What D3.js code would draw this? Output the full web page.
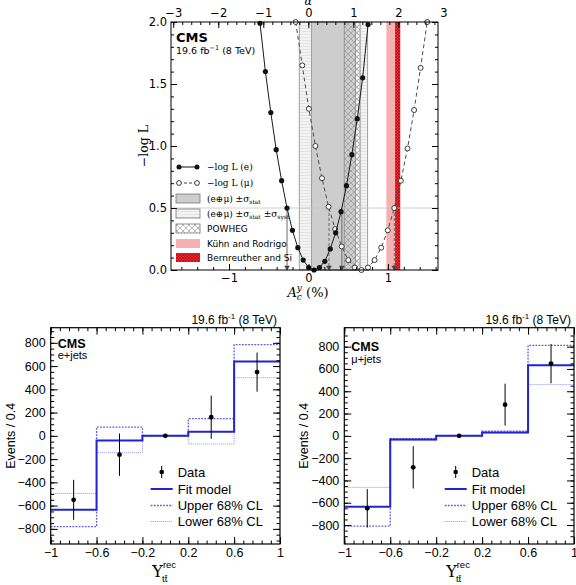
<!DOCTYPE html>
<html>
<head>
<meta charset="utf-8">
<script src="https://cdn.jsdelivr.net/npm/d3@7"></script>
<style>
body { margin: 0; background: #fff; }
text { fill: #000; }
</style>
</head>
<body>
<svg id="fig" width="576" height="585"></svg>
<script>
// ---- top panel: -log L scans vs A_c^y (%) ----
const eA  = [-0.61, -0.542, -0.474, -0.406, -0.338, -0.27, -0.202, -0.134, -0.066, 0.002, 0.07,
             0.138, 0.206, 0.274, 0.342, 0.41, 0.478, 0.546, 0.614, 0.682, 0.75];
const eL  = [1.99, 1.60, 1.27, 0.97, 0.72, 0.50, 0.32, 0.18, 0.08, 0.02, 0.0,
             0.02, 0.07, 0.17, 0.30, 0.47, 0.68, 0.93, 1.22, 1.55, 1.98];
const muA = [-0.161, -0.078, 0.005, 0.087, 0.17, 0.253, 0.336, 0.418, 0.501, 0.584, 0.667,
             0.749, 0.832, 0.915, 0.998, 1.08, 1.163, 1.246, 1.329, 1.411, 1.494];
const muL = [2.0, 1.65, 1.30, 1.00, 0.74, 0.51, 0.33, 0.19, 0.08, 0.02, 0.0,
             0.02, 0.08, 0.18, 0.32, 0.50, 0.72, 0.98, 1.29, 1.63, 2.0];

// vertical bands (A_c^y in %)
const systBand   = [-0.116, 0.745];
const statBand   = [0.04, 0.59];
const powhegBand = [0.45, 0.65];
const kuhnBand   = [0.98, 1.09];
const bernBand   = [1.09, 1.155];
// 1 sigma crossings (-log L = 0.5)
const eCross  = [-0.27, 0.42];
const muCross = [0.258, 1.08];

const legendTop = ["−log L  (e)", "−log L  (μ)", "stat", "syst", "POWHEG", "Kühn and Rodrigo", "Bernreuther and Si"];

// ---- bottom panels: Upsilon_tt^rec templates ----
const binEdges   = [-1, -0.6, -0.2, 0.2, 0.6, 1];
const binCenters = [-0.8, -0.4, 0, 0.4, 0.8];
const eFit    = [-635, -40, 0, 35, 640];
const eUpper  = [-780, 75, 0, 148, 784];
const eLower  = [-495, -145, 0, -70, 500];
const eData   = [-550, -162, 0, 160, 548];
const eErr    = [172, 182, 0, 186, 168];
const muFit   = [-637, -32, 0, 30, 634];
const muUpper = [-810, -25, 0, 42, 812];
const muLower = [-462, -40, 0, 24, 460];
const muData  = [-650, -282, 0, 280, 648];
const muErr   = [172, 190, 0, 188, 176];
const histLegend = ["Data", "Fit model", "Upper 68% CL", "Lower 68% CL"];

const svg = d3.select("#fig");
const defs = svg.append("defs");

const pSyst = defs.append("pattern").attr("id", "hSyst")
	.attr("width", 4).attr("height", 3).attr("patternUnits", "userSpaceOnUse");
pSyst.append("rect").attr("width", 4).attr("height", 3).attr("fill", "#f3f3f3");
pSyst.append("line").attr("x1", 0).attr("x2", 4).attr("y1", 1.5).attr("y2", 1.5)
	.attr("stroke", "#dadada").attr("stroke-width", 0.6);

const pPow = defs.append("pattern").attr("id", "hPow")
	.attr("width", 6).attr("height", 6).attr("patternUnits", "userSpaceOnUse");
pPow.append("path").attr("d", "M0,0L6,6M6,0L0,6M-1,5L1,7M5,-1L7,1")
	.attr("stroke", "#8c8c8c").attr("stroke-width", 0.6).attr("fill", "none");

const pRed = defs.append("pattern").attr("id", "hRed")
	.attr("width", 3).attr("height", 3).attr("patternUnits", "userSpaceOnUse");
pRed.append("rect").attr("width", 3).attr("height", 3).attr("fill", "#e8262a");
pRed.append("path").attr("d", "M0,0L3,3M3,0L0,3")
	.attr("stroke", "#b00010").attr("stroke-width", 0.5);

// helper: axis with inward ticks, no domain line
function addAxis(g, axis, tx, ty) {
	const a = g.append("g").attr("transform", `translate(${tx},${ty})`).call(axis);
	a.select(".domain").remove();
	return a;
}

// ================= TOP PANEL =================
const tp = {l: 171, r: 438, t: 22, b: 270};
const xA = d3.scaleLinear().domain([-1.73, 1.63]).range([tp.l, tp.r]);
const xAlpha = d3.scaleLinear().domain([-3.05, 2.88]).range([tp.l, tp.r]);
const yL = d3.scaleLinear().domain([0, 2]).range([tp.b, tp.t]);
const gt = svg.append("g").attr("font-family", "DejaVu Sans");

function band(r, fill, stroke) {
	gt.append("rect")
		.attr("x", xA(r[0])).attr("width", xA(r[1]) - xA(r[0]))
		.attr("y", tp.t).attr("height", tp.b - tp.t)
		.attr("fill", fill)
		.attr("stroke", stroke || "none").attr("stroke-width", 0.8);
}
band(systBand, "url(#hSyst)", "#8a8a8a");
band(statBand, "#cdcdcd", "#8a8a8a");
band(powhegBand, "url(#hPow)", "#8a8a8a");
band(kuhnBand, "#f5b1b1");
band(bernBand, "url(#hRed)");

gt.append("line")
	.attr("x1", tp.l).attr("x2", tp.r).attr("y1", yL(0.5)).attr("y2", yL(0.5))
	.attr("stroke", "#c4c4c4").attr("stroke-width", 0.8);

function arrows(vals, dash) {
	vals.forEach(v => {
		gt.append("line")
			.attr("x1", xA(v)).attr("x2", xA(v)).attr("y1", yL(0.5)).attr("y2", yL(0) - 3)
			.attr("stroke", "#6a6a6a").attr("stroke-width", 1)
			.attr("stroke-dasharray", dash);
		gt.append("path")
			.attr("d", d3.symbol(d3.symbolTriangle, 14)())
			.attr("transform", `translate(${xA(v)},${yL(0) - 2.5}) rotate(180)`)
			.attr("fill", "#444");
	});
}
arrows(eCross, null);
arrows(muCross, "3,2");

const scanLine = d3.line().x(d => xA(d[0])).y(d => yL(d[1]));
const ePts = d3.zip(eA, eL);
const muPts = d3.zip(muA, muL);

gt.append("path").attr("d", scanLine(muPts))
	.attr("fill", "none").attr("stroke", "#4a4a4a").attr("stroke-width", 1)
	.attr("stroke-dasharray", "4,3");
gt.selectAll(".mu").data(muPts).enter().append("circle")
	.attr("cx", d => xA(d[0])).attr("cy", d => yL(d[1])).attr("r", 2.5)
	.attr("fill", "#fff").attr("stroke", "#3a3a3a").attr("stroke-width", 1);

gt.append("path").attr("d", scanLine(ePts))
	.attr("fill", "none").attr("stroke", "#1a1a1a").attr("stroke-width", 1);
gt.selectAll(".e").data(ePts).enter().append("circle")
	.attr("cx", d => xA(d[0])).attr("cy", d => yL(d[1])).attr("r", 2.6)
	.attr("fill", "#111");

// frame + ticks
gt.append("rect").attr("x", tp.l).attr("y", tp.t)
	.attr("width", tp.r - tp.l).attr("height", tp.b - tp.t)
	.attr("fill", "none").attr("stroke", "#000").attr("stroke-width", 1);

const f1 = d3.format(".1f");
addAxis(gt, d3.axisLeft(yL).tickValues([0, 0.5, 1, 1.5, 2]).tickFormat(f1).tickSize(-6).tickPadding(4), tp.l, 0)
	.attr("font-size", 11.5).attr("font-family", "DejaVu Sans");
addAxis(gt, d3.axisLeft(yL).tickValues(d3.range(0, 2.001, 0.1)).tickFormat("").tickSize(-3), tp.l, 0);
addAxis(gt, d3.axisRight(yL).tickValues([0, 0.5, 1, 1.5, 2]).tickFormat("").tickSize(-6), tp.r, 0);
addAxis(gt, d3.axisRight(yL).tickValues(d3.range(0, 2.001, 0.1)).tickFormat("").tickSize(-3), tp.r, 0);
addAxis(gt, d3.axisBottom(xA).tickValues([-1, 0, 1]).tickFormat(d3.format("")).tickSize(-6).tickPadding(4), 0, tp.b)
	.attr("font-size", 11.5).attr("font-family", "DejaVu Sans");
addAxis(gt, d3.axisBottom(xA).tickValues(d3.range(-1.6, 1.61, 0.2)).tickFormat("").tickSize(-3), 0, tp.b);
const aTop = addAxis(gt, d3.axisTop(xAlpha).tickValues([-3, -2, -1, 0, 1, 2, 3]).tickFormat(d3.format("")).tickSize(-6).tickPadding(5), 0, tp.t)
	.attr("font-size", 11.5).attr("font-family", "DejaVu Sans");
aTop.selectAll(".tick").filter(d => d > 2.88).select("line").remove();
addAxis(gt, d3.axisTop(xAlpha).tickValues(d3.range(-3, 2.88, 0.2)).tickFormat("").tickSize(-3), 0, tp.t);

gt.append("text").attr("x", xAlpha(0)).attr("y", 5).attr("text-anchor", "middle")
	.attr("font-family", "DejaVu Serif").attr("font-style", "italic").attr("font-size", 11).text("α");

const ylab = gt.append("text").attr("transform", `translate(148,${(tp.t + tp.b) / 2}) rotate(-90)`)
	.attr("text-anchor", "middle").attr("font-family", "DejaVu Serif").attr("font-size", 12.5);
ylab.text("−log L");

const xlab = gt.append("text").attr("x", 308).attr("y", 297).attr("text-anchor", "middle")
	.attr("font-family", "DejaVu Serif").attr("font-size", 13);
xlab.append("tspan").attr("font-style", "italic").text("A");
xlab.append("tspan").attr("font-size", 9).attr("dy", 3).attr("font-style", "italic").text("c");
xlab.append("tspan").attr("font-size", 9).attr("dx", -5).attr("dy", -9).attr("font-style", "italic").text("y");
xlab.append("tspan").attr("dy", 6).text("  (%)");

gt.append("text").attr("x", 176).attr("y", 41.5).attr("font-weight", "bold").attr("font-size", 13).text("CMS");
const lumiTop = gt.append("text").attr("x", 176).attr("y", 53.5).attr("font-size", 9.5);
lumiTop.append("tspan").text("19.6 fb");
lumiTop.append("tspan").attr("font-size", 6.5).attr("dy", -4).text("−1");
lumiTop.append("tspan").attr("dy", 4).text("  (8 TeV)");

// legend of the top panel
const lgY = [167, 183, 198.5, 213.5, 228.5, 243.5, 257.5];
const lx0 = 179, lx1 = 197, ltx = 207;
// e
gt.append("line").attr("x1", lx0).attr("x2", lx1).attr("y1", lgY[0]).attr("y2", lgY[0]).attr("stroke", "#111");
[lx0, lx1].forEach(x => gt.append("circle").attr("cx", x).attr("cy", lgY[0]).attr("r", 2.5).attr("fill", "#111"));
// mu
gt.append("line").attr("x1", lx0).attr("x2", lx1).attr("y1", lgY[1]).attr("y2", lgY[1])
	.attr("stroke", "#444").attr("stroke-dasharray", "3,2");
[lx0, lx1].forEach(x => gt.append("circle").attr("cx", x).attr("cy", lgY[1]).attr("r", 2.4)
	.attr("fill", "#fff").attr("stroke", "#3a3a3a"));
const swatch = (i, fill, stroke) => gt.append("rect")
	.attr("x", lx0 - 3).attr("y", lgY[i] - 4.5).attr("width", lx1 - lx0 + 6).attr("height", 9)
	.attr("fill", fill).attr("stroke", stroke || "none").attr("stroke-width", 0.8);
swatch(2, "#cdcdcd", "#777");
swatch(3, "url(#hSyst)", "#777");
swatch(4, "url(#hPow)", "#777");
swatch(5, "#f5b1b1");
swatch(6, "url(#hRed)");

const lt = i => gt.append("text").attr("x", ltx).attr("y", lgY[i] + 3.3).attr("font-size", 9);
lt(0).attr("font-family", "DejaVu Serif").text(legendTop[0]);
lt(1).attr("font-family", "DejaVu Serif").text(legendTop[1]);
const s1 = lt(2).attr("font-family", "DejaVu Serif");
s1.append("tspan").text("(e⊕μ) ±σ");
s1.append("tspan").attr("font-size", 6).attr("dy", 2).text(legendTop[2]);
const s2 = lt(3).attr("font-family", "DejaVu Serif");
s2.append("tspan").text("(e⊕μ) ±σ");
s2.append("tspan").attr("font-size", 6).attr("dy", 2).text("stat");
s2.append("tspan").attr("dy", -2).text(" ±σ");
s2.append("tspan").attr("font-size", 6).attr("dy", 2).text(legendTop[3]);
lt(4).text(legendTop[4]);
lt(5).text(legendTop[5]);
lt(6).text(legendTop[6]);

// ================= BOTTOM PANELS =================
const blue = "#2323d2";
const upperCol = "#5c5ce2", lowerCol = "#a6a6ee";
function histPanel(p) {
	const g = svg.append("g").attr("font-family", "Liberation Sans, Arial, sans-serif");
	const x = d3.scaleLinear().domain([-1, 1]).range([p.l, p.r]);
	const y = d3.scaleLinear().domain(p.yDom).range([p.b, p.t]);
	const ext = v => v.concat([v[v.length - 1]]);
	const step = d3.line().curve(d3.curveStepAfter).x((d, i) => x(binEdges[i])).y(d => y(d));

	g.append("path").attr("d", step(ext(p.lower))).attr("fill", "none")
		.attr("stroke", lowerCol).attr("stroke-width", 1).attr("stroke-dasharray", "1.2,0.8");
	g.append("path").attr("d", step(ext(p.upper))).attr("fill", "none")
		.attr("stroke", upperCol).attr("stroke-width", 1.3).attr("stroke-dasharray", "1.8,1.3");
	g.append("path").attr("d", step(ext(p.fit))).attr("fill", "none")
		.attr("stroke", blue).attr("stroke-width", 2);

	binCenters.forEach((c, i) => {
		g.append("line").attr("x1", x(c)).attr("x2", x(c))
			.attr("y1", y(p.data[i] - p.err[i])).attr("y2", y(p.data[i] + p.err[i]))
			.attr("stroke", "#000").attr("stroke-width", 1);
		g.append("circle").attr("cx", x(c)).attr("cy", y(p.data[i])).attr("r", 2.4).attr("fill", "#000");
	});

	g.append("rect").attr("x", p.l).attr("y", p.t).attr("width", p.r - p.l).attr("height", p.b - p.t)
		.attr("fill", "none").attr("stroke", "#000").attr("stroke-width", 1.2);

	const yMaj = d3.range(-800, 801, 200), yMin = d3.range(-900, 901, 50);
	const xMin = d3.range(-1, 1.001, 0.08);
	addAxis(g, d3.axisLeft(y).tickValues(yMaj).tickFormat(d3.format("")).tickSize(-7).tickPadding(5), p.l, 0)
		.attr("font-size", 12.5).attr("font-family", "Liberation Sans, Arial, sans-serif");
	addAxis(g, d3.axisLeft(y).tickValues(yMin).tickFormat("").tickSize(-3.5), p.l, 0);
	addAxis(g, d3.axisRight(y).tickValues(yMaj).tickFormat("").tickSize(-7), p.r, 0);
	addAxis(g, d3.axisRight(y).tickValues(yMin).tickFormat("").tickSize(-3.5), p.r, 0);
	addAxis(g, d3.axisBottom(x).tickValues(binEdges).tickFormat(d3.format("")).tickSize(-7).tickPadding(4), 0, p.b)
		.attr("font-size", 12.5).attr("font-family", "Liberation Sans, Arial, sans-serif");
	addAxis(g, d3.axisBottom(x).tickValues(xMin).tickFormat("").tickSize(-3.5), 0, p.b);
	addAxis(g, d3.axisTop(x).tickValues(binEdges).tickFormat("").tickSize(-7), 0, p.t);
	addAxis(g, d3.axisTop(x).tickValues(xMin).tickFormat("").tickSize(-3.5), 0, p.t);

	g.selectAll(".tick line").attr("stroke-width", 1);

	// labels
	const lumi = g.append("text").attr("x", p.r - 3).attr("y", 324).attr("text-anchor", "end").attr("font-size", 12);
	lumi.append("tspan").text("19.6 fb");
	lumi.append("tspan").attr("font-size", 8).attr("dy", -5).text("-1");
	lumi.append("tspan").attr("dy", 5).text(" (8 TeV)");
	g.append("text").attr("x", p.l + 7).attr("y", p.cmsY).attr("font-weight", "bold").attr("font-size", 12.5).text("CMS");
	g.append("text").attr("x", p.l + 7).attr("y", p.cmsY + 11.5).attr("font-size", 11).text(p.chan);

	g.append("text").attr("transform", `translate(${p.l - 36},${y(0)}) rotate(-90)`)
		.attr("text-anchor", "middle").attr("font-size", 12.5).text("Events / 0.4");
	const ux = g.append("text").attr("x", (p.l + p.r) / 2 - 13).attr("y", 577).attr("font-size", 16)
		.attr("font-family", "DejaVu Serif");
	ux.append("tspan").text("Υ");
	ux.append("tspan").attr("font-size", 9.5).attr("font-family", "Liberation Sans, Arial, sans-serif").attr("dy", -9).text("rec");
	ux.append("tspan").attr("font-size", 9.5).attr("font-family", "Liberation Sans, Arial, sans-serif")
		.attr("dx", -14).attr("dy", 14).text("tt\u0304");

	// legend
	const ly = [472, 489, 505.5, 521.5];
	g.append("line").attr("x1", p.legX).attr("x2", p.legX).attr("y1", ly[0] - 6).attr("y2", ly[0] + 6).attr("stroke", "#000");
	g.append("circle").attr("cx", p.legX).attr("cy", ly[0]).attr("r", 2.3).attr("fill", "#000");
	g.append("line").attr("x1", p.legX - 11).attr("x2", p.legX + 11).attr("y1", ly[1]).attr("y2", ly[1])
		.attr("stroke", blue).attr("stroke-width", 2);
	g.append("line").attr("x1", p.legX - 11).attr("x2", p.legX + 11).attr("y1", ly[2]).attr("y2", ly[2])
		.attr("stroke", upperCol).attr("stroke-width", 1.3).attr("stroke-dasharray", "1.8,1.3");
	g.append("line").attr("x1", p.legX - 11).attr("x2", p.legX + 11).attr("y1", ly[3]).attr("y2", ly[3])
		.attr("stroke", lowerCol).attr("stroke-width", 1).attr("stroke-dasharray", "1.2,0.8");
	histLegend.forEach((t, i) => g.append("text").attr("x", p.legX + 16).attr("y", ly[i] + 4.6)
		.attr("font-size", 13).text(t));
}

histPanel({l: 50.7, r: 280, t: 327.7, b: 544, yDom: [-930, 930], legX: 161.7, cmsY: 347.5,
	chan: "e+jets", fit: eFit, upper: eUpper, lower: eLower, data: eData, err: eErr});
histPanel({l: 344.3, r: 574, t: 327.7, b: 544, yDom: [-970, 970], legX: 455.7, cmsY: 351,
	chan: "μ+jets", fit: muFit, upper: muUpper, lower: muLower, data: muData, err: muErr});
</script>
</body>
</html>
